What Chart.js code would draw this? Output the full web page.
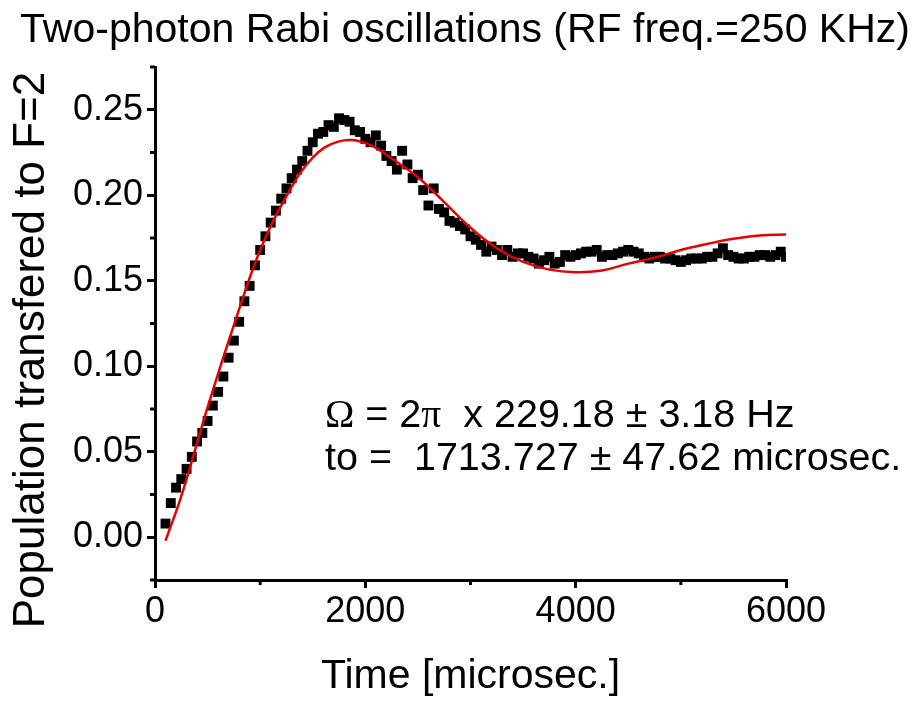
<!DOCTYPE html>
<html>
<head>
<meta charset="utf-8">
<script src="https://cdn.jsdelivr.net/npm/chart.js@4/dist/chart.umd.min.js"></script>
<style>
  html, body { margin: 0; padding: 0; background: #fff; }
  #wrap { width: 915px; height: 701px; }
</style>
</head>
<body>
<div id="wrap"><canvas id="c" width="915" height="701"></canvas></div>
<script>
// measured points (time in microsec, population)
const times = [
  100, 150, 200, 250, 300, 350, 400, 450, 500, 550, 600, 650, 700, 750, 800, 850, 900, 950,
  1000, 1050, 1100, 1150, 1200, 1250, 1300, 1350, 1400, 1450, 1500, 1550, 1600, 1650, 1700, 1750,
  1800, 1850, 1900, 1950, 2000, 2050, 2100, 2150, 2200, 2250, 2300, 2350, 2400, 2450, 2500, 2550,
  2600, 2650, 2700, 2750, 2800, 2850, 2900, 2950, 3000, 3050, 3100, 3150, 3200, 3250, 3300, 3350,
  3400, 3450, 3500, 3550, 3600, 3650, 3700, 3750, 3800, 3850, 3900, 3950, 4000, 4050, 4100, 4150,
  4200, 4250, 4300, 4350, 4400, 4450, 4500, 4550, 4600, 4650, 4700, 4750, 4800, 4850, 4900, 4950,
  5000, 5050, 5100, 5150, 5200, 5250, 5300, 5350, 5400, 5450, 5500, 5550, 5600, 5650, 5700, 5750,
  5800, 5850, 5900, 5950, 6000
];
const population = [
  0.008, 0.020, 0.029, 0.034, 0.040, 0.047, 0.056, 0.061, 0.068, 0.077, 0.085, 0.094, 0.105, 0.115, 0.126, 0.138, 0.147, 0.159,
  0.168, 0.176, 0.184, 0.191, 0.198, 0.204, 0.210, 0.215, 0.220, 0.226, 0.231, 0.236, 0.237, 0.241, 0.240, 0.245,
  0.244, 0.243, 0.238, 0.237, 0.233, 0.231, 0.235, 0.229, 0.223, 0.220, 0.215, 0.226, 0.218, 0.210, 0.212, 0.203,
  0.194, 0.204, 0.192, 0.190, 0.185, 0.184, 0.182, 0.180, 0.176, 0.174, 0.171, 0.167, 0.170, 0.168, 0.165, 0.168,
  0.164, 0.166, 0.166, 0.164, 0.163, 0.160, 0.162, 0.164, 0.160, 0.161, 0.165, 0.164, 0.165, 0.166, 0.167, 0.167,
  0.168, 0.164, 0.165, 0.165, 0.166, 0.167, 0.168, 0.167, 0.166, 0.164, 0.163, 0.164, 0.164, 0.163, 0.163, 0.162,
  0.161, 0.162, 0.163, 0.163, 0.163, 0.164, 0.164, 0.166, 0.169, 0.165, 0.164, 0.163, 0.163, 0.164, 0.164, 0.165,
  0.165, 0.164, 0.165, 0.167, 0.164
];

// fitted curve
const fitTimes = [
  100, 250, 500, 750, 1000, 1250, 1500, 1750, 2000, 2250, 2500, 2750, 3000, 3250, 3500, 3750,
  4000, 4250, 4500, 4750, 5000, 5250, 5500, 5750, 6000
];
const fitValues = [
  -0.002, 0.024, 0.076, 0.124, 0.168, 0.1995, 0.222, 0.2315, 0.2305, 0.2215, 0.2105, 0.196, 0.181, 0.169, 0.161, 0.1565,
  0.155, 0.156, 0.160, 0.1635, 0.168, 0.1715, 0.1745, 0.1765, 0.177
];

const xMajor = [0, 2000, 4000, 6000];
const xMinor = [1000, 3000, 5000];
const yMajor = [0.00, 0.05, 0.10, 0.15, 0.20, 0.25];
const yMinor = [-0.025, 0.025, 0.075, 0.125, 0.175, 0.225, 0.275];

const titleText = 'Two-photon Rabi oscillations (RF freq.=250 KHz)';
const yTitle = 'Population transfered to F=2';
const FONT = "'Liberation Sans', Arial, sans-serif";
const SERIF = "'Liberation Serif', 'Times New Roman', serif";

Chart.defaults.font.family = FONT;
Chart.defaults.color = '#000';

const decorations = {
  id: 'decorations',
  afterDraw(chart) {
    const ctx = chart.ctx;
    const xs = chart.scales.x, ys = chart.scales.y;
    ctx.save();
    // minor ticks
    ctx.strokeStyle = '#000';
    ctx.lineWidth = 3;
    ctx.beginPath();
    xMinor.forEach(v => {
      const px = xs.getPixelForValue(v);
      ctx.moveTo(px, xs.top);
      ctx.lineTo(px, xs.top + 5);
    });
    yMinor.forEach(v => {
      const py = ys.getPixelForValue(v);
      ctx.moveTo(ys.right, py);
      ctx.lineTo(ys.right - 5, py);
    });
    ctx.stroke();

    // title
    ctx.fillStyle = '#000';
    ctx.textBaseline = 'alphabetic';
    ctx.textAlign = 'center';
    ctx.font = '41px ' + FONT;
    ctx.fillText(titleText, 465, 42);

    // y axis title
    ctx.save();
    ctx.translate(32, 350);
    ctx.rotate(-Math.PI / 2);
    ctx.textAlign = 'center';
    ctx.textBaseline = 'middle';
    ctx.font = '44px ' + FONT;
    ctx.fillText(yTitle, 0, 0);
    ctx.restore();

    // fit results
    ctx.textAlign = 'left';
    let x = 325;
    const parts1 = [
      ['\u03A9', SERIF], [' = 2', FONT], ['\u03C0', SERIF], ['  x 229.18 \u00B1 3.18 Hz', FONT]
    ];
    parts1.forEach(([t, f]) => {
      ctx.font = '39.5px ' + f;
      ctx.fillText(t, x, 427);
      x += ctx.measureText(t).width;
    });
    ctx.font = '39.5px ' + FONT;
    ctx.fillText('to =  1713.727 \u00B1 47.62 microsec.', 325, 470);
    ctx.restore();
  }
};

new Chart(document.getElementById('c'), {
  type: 'scatter',
  data: {
    datasets: [
      {
        label: 'fit',
        type: 'line',
        data: fitTimes.map((t, i) => ({ x: t, y: fitValues[i] })),
        borderColor: '#e80000',
        borderWidth: 2.5,
        pointRadius: 0,
        fill: false,
        tension: 0.4,
        order: 0
      },
      {
        label: 'data',
        data: times.map((t, i) => ({ x: t, y: population[i] })),
        pointStyle: 'rect',
        pointRadius: 7,
        pointBorderWidth: 0,
        backgroundColor: '#000',
        borderColor: '#000',
        order: 1
      }
    ]
  },
  options: {
    responsive: false,
    animation: false,
    layout: { padding: { top: 67, right: 129, left: 0, bottom: 0 } },
    plugins: { legend: { display: false }, title: { display: false }, tooltip: { enabled: false } },
    scales: {
      x: {
        type: 'linear',
        min: 0,
        max: 6000,
        afterFit: s => { s.height = 121; },
        afterBuildTicks: s => { s.ticks = xMajor.map(v => ({ value: v })); },
        border: { color: '#000', width: 3 },
        grid: { drawOnChartArea: false, drawTicks: true, tickLength: 8, color: '#000', lineWidth: 3 },
        ticks: { font: { size: 36 }, padding: 2, maxRotation: 0, callback: v => String(v) },
        title: { display: true, text: 'Time [microsec.]', font: { size: 41 }, padding: { top: 0, bottom: 0 } }
      },
      y: {
        type: 'linear',
        min: -0.025,
        max: 0.275,
        afterFit: s => { s.width = 155; },
        afterBuildTicks: s => { s.ticks = yMajor.map(v => ({ value: v })); },
        border: { color: '#000', width: 3 },
        grid: { drawOnChartArea: false, drawTicks: true, tickLength: 8, color: '#000', lineWidth: 3 },
        ticks: { font: { size: 36 }, padding: 4, callback: v => v.toFixed(2) },
        title: { display: false }
      }
    }
  },
  plugins: [decorations]
});
</script>
</body>
</html>
